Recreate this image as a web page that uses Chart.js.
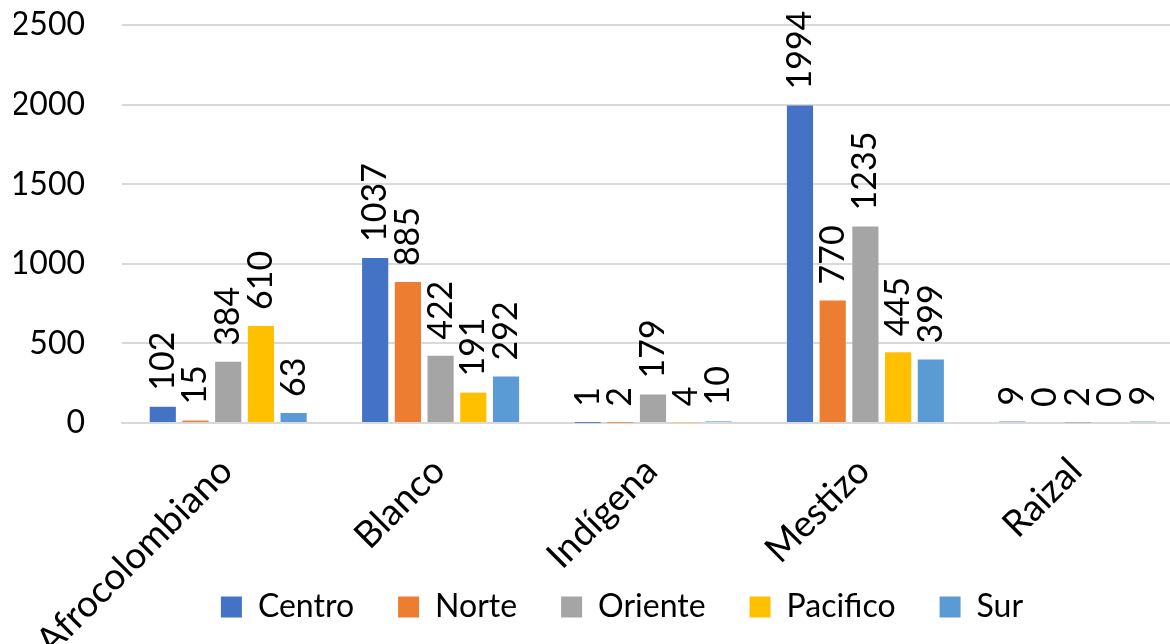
<!DOCTYPE html>
<html lang="es">
<head>
<meta charset="utf-8">
<title>Grupo étnico por región</title>
<script src="https://cdn.jsdelivr.net/npm/chart.js@4.4.1/dist/chart.umd.min.js"></script>
<style>
  html, body { margin: 0; padding: 0; background: #fff; overflow: hidden; }
  #wrap { width: 1184px; height: 644px; }
</style>
</head>
<body>
<div id="wrap"><canvas id="ethnicChart" width="1184" height="644"></canvas></div>
<script>
// Categories and series
const categories = ["Afrocolombiano", "Blanco", "Indígena", "Mestizo", "Raizal"];
const regions = ["Centro", "Norte", "Oriente", "Pacifico", "Sur"];
const centro = [102, 1037, 1, 1994, 9];
const norte = [15, 885, 2, 770, 0];
const oriente = [384, 422, 179, 1235, 2];
const pacifico = [610, 191, 4, 445, 0];
const sur = [63, 292, 10, 399, 9];
const yTicks = [0, 500, 1000, 1500, 2000, 2500];

const colors = ["#4472C4", "#ED7D31", "#A5A5A5", "#FFC000", "#5B9BD5"];
const fontFamily = "Lato, 'Open Sans', sans-serif";

let ethnicChartInstance = null;

// Value labels drawn vertically above each bar
const verticalLabels = {
  id: "verticalLabels",
  afterDatasetsDraw(chart) {
    const ctx = chart.ctx;
    ctx.save();
    ctx.font = "34px " + fontFamily;
    ctx.fillStyle = "#000";
    ctx.textAlign = "left";
    ctx.textBaseline = "middle";
    chart.data.datasets.forEach((ds, i) => {
      const meta = chart.getDatasetMeta(i);
      meta.data.forEach((bar, j) => {
        ctx.save();
        ctx.translate(bar.x, bar.y - 16);
        ctx.rotate(-Math.PI / 2);
        ctx.fillText(String(ds.data[j]), 0, 0);
        ctx.restore();
      });
    });
    ctx.restore();
  },
};

// Legend sits a bit right of the canvas centre in the original
const shiftLegend = {
  id: "shiftLegend",
  afterLayout(chart) {
    if (chart.legend) {
      chart.legend.left += 23;
      chart.legend.right += 23;
    }
  },
};

function renderChart() {
  const ctx = document.getElementById("ethnicChart").getContext("2d");
  const series = [centro, norte, oriente, pacifico, sur];

  ethnicChartInstance = new Chart(ctx, {
    type: "bar",
    data: {
      labels: categories,
      datasets: regions.map((name, i) => ({
        label: name,
        data: series[i],
        backgroundColor: colors[i],
        categoryPercentage: 0.77,
        barPercentage: 0.8,
      })),
    },
    options: {
      responsive: false,
      animation: false,
      layout: { padding: { left: 14, right: 0, top: 25, bottom: 11 } },
      scales: {
        x: {
          grid: { display: false, drawTicks: false },
          border: { display: true, color: "#D9D9D9", width: 2 },
          ticks: {
            color: "#000",
            font: { size: 37, family: fontFamily },
            minRotation: 45,
            maxRotation: 45,
            padding: 26,
            labelOffset: -2,
          },
          afterFit: (scale) => {
            // long rotated labels run under the legend, like the original
            scale.height = 124;
            scale.paddingLeft = 0;
            scale.paddingRight = 0;
            scale._computeLabelArea = function () {
              return { top: this.top, left: 0, bottom: this.chart.height, right: this.chart.width };
            };
          },
        },
        y: {
          min: 0,
          max: 2500,
          afterBuildTicks: (scale) => { scale.ticks = yTicks.map((v) => ({ value: v })); },
          grid: { color: "#D9D9D9", lineWidth: 2, drawTicks: false },
          border: { display: false },
          ticks: {
            color: "#000",
            font: { size: 32, family: fontFamily },
            padding: 37,
            callback: (v) => String(v),
          },
          afterFit: (scale) => {
            scale.width = 108;
            scale.paddingTop = 0;
            scale.paddingBottom = 0;
          },
        },
      },
      plugins: {
        legend: {
          position: "bottom",
          labels: {
            color: "#000",
            font: { size: 32, family: fontFamily },
            boxWidth: 21,
            boxHeight: 21,
            padding: 44,
          },
        },
        tooltip: { enabled: false },
      },
    },
    plugins: [verticalLabels, shiftLegend],
  });
}

renderChart();
</script>
</body>
</html>
